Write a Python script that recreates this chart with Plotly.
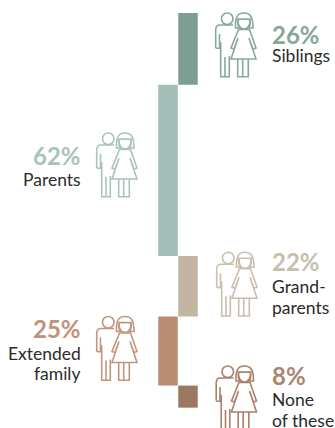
import re
import plotly.graph_objects as go

categories = ["Siblings", "Parents", "Grand-<br>parents", "Extended<br>family", "None<br>of these"]
values = [26, 62, 22, 25, 8]
percent_labels = ["26%", "62%", "22%", "25%", "8%"]
columns = [1, 0, 1, 0, 1]
bar_colors = ["#7d9f91", "#a3beb6", "#c2b6a3", "#b98b72", "#9d7860"]
text_colors = ["#87a699", "#a9c3bb", "#c9bdab", "#bf9179", "#a98570"]
icon_colors = ["#88a89c", "#a9c4bc", "#cabfae", "#c19680", "#a9806a"]

# layout only (pixels in the 335x428 page)
W, H = 335, 428
PX_PER_UNIT = 2.76
TOP = 13
icon_left = [215, 96, 216, 96, 215.5]
icon_top = [12, 132, 251.3, 315.5, 365]
pct_base = [43.5, 165, 270.5, 337.5, 384.5]
label_base = [63.5, 186.5, 294, 360.5, 407]
LINE_STEP = 20.7


def px(x):
    return x / W


def py(y):
    return 1 - y / H


bases = []
running = 0
for v in values:
    bases.append(running)
    running += v

fig = go.Figure()
fig.add_trace(go.Bar(
    x=columns, y=values, base=bases, width=0.975, marker=dict(color=bar_colors, line_width=0),
    customdata=categories, hovertemplate="%{customdata}: %{y}%<extra></extra>",
))

MAN = ("M18,13 L5,13 C2,13 0.7,15 0.7,18 L0.7,35 C0.7,36 1,36.3 2,36.3 L4.5,36.3 L4.5,22 "
       "M5.7,30 L5.7,64.7 L14.3,64.7 L14.3,44 M10,45 L10,64.7")
DRESS = ("M23.5,17.5 L34.5,17.5 L41,36 L38,37 L34,26 L41,47 L16,47 L23,26 L19,37 L16,36 Z")
LEGS = "M22.7,47 L22.7,64.7 L27.7,64.7 L27.7,47 M27.7,64.7 L33.3,64.7 L33.3,47"
HAIR = ("M20.5,16 C20,6 22,1 29,1 C36,1 38,6 38,16 L33.5,16 "
        "C35.5,14 35.5,11 35,7 L23,7 C22.5,11 22.5,14 24.5,16 Z")
FACE = "M23,7 L35,7 C35.5,13 33,17 29,17 C25,17 22.5,13 23,7 Z"


def place(d, x0, y0):
    def repl(m):
        return f"{px(x0 + float(m.group(1))):.5f},{py(y0 + float(m.group(2))):.5f}"
    return re.sub(r"(-?[\d.]+),(-?[\d.]+)", repl, d)


shapes = []
for left, top, col in zip(icon_left, icon_top, icon_colors):
    line = dict(color=col, width=1.6)
    common = dict(type="path", xref="paper", yref="paper", line=line)
    shapes.append(dict(common, path=place(MAN, left, top)))
    shapes.append(dict(type="circle", xref="paper", yref="paper", line=line, fillcolor="white",
                       x0=px(left + 6.5), x1=px(left + 18), y0=py(top + 1), y1=py(top + 12.5)))
    shapes.append(dict(common, path=place(DRESS, left, top), fillcolor="white"))
    shapes.append(dict(common, path=place(LEGS, left, top)))
    shapes.append(dict(common, path=place(FACE, left, top), fillcolor="white"))
    shapes.append(dict(common, path=place(HAIR, left, top), fillcolor="white"))

annotations = []
for i in range(5):
    right = columns[i] == 0
    xa = 82 if right else 271
    anchor = "right" if right else "left"
    annotations.append(dict(
        text=f"<b>{percent_labels[i]}</b>", x=px(xa), y=py(pct_base[i] - 25), xref="paper", yref="paper",
        xanchor=anchor, yanchor="top", showarrow=False, align=anchor,
        font=dict(family="Lato", size=24, color=text_colors[i]), borderpad=0,
    ))
    for k, part in enumerate(categories[i].split("<br>")):
        annotations.append(dict(
            text=part, x=px(xa), y=py(label_base[i] + k * LINE_STEP - 19), xref="paper", yref="paper",
            xanchor=anchor, yanchor="top", showarrow=False, align=anchor,
            font=dict(family="Lato", size=17.5, color="#2b2b2b"), borderpad=0,
        ))

fig.update_layout(
    width=W, height=H, margin=dict(l=0, r=0, t=0, b=0), autosize=False,
    plot_bgcolor="white", paper_bgcolor="white", showlegend=False,
    shapes=shapes, annotations=annotations,
    xaxis=dict(visible=False, range=[(0 - 168) / 20, (W - 168) / 20], fixedrange=True),
    yaxis=dict(visible=False, range=[(H - TOP) / PX_PER_UNIT, -TOP / PX_PER_UNIT], fixedrange=True),
)
fig.write_html("out.html", config=dict(displayModeBar=False),
               post_script="document.body.style.margin='0';document.body.style.overflow='hidden';")
